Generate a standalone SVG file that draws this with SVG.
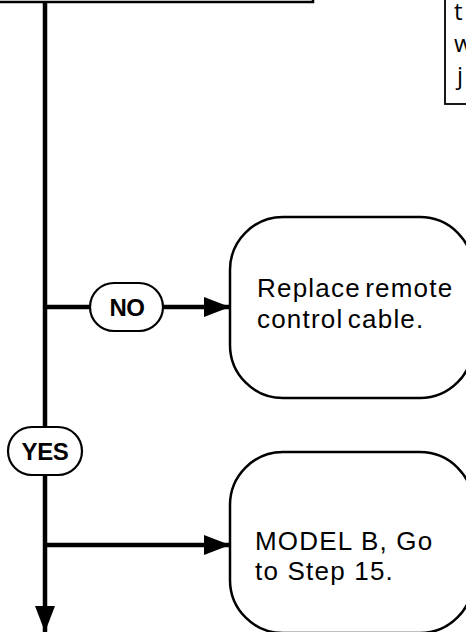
<svg xmlns="http://www.w3.org/2000/svg" width="466" height="632" viewBox="0 0 466 632">
<defs>
<style>
.box{fill:#fff;stroke:#000;stroke-width:2.5}
.note{fill:#fff;stroke:#000;stroke-width:1.8}
.pill{fill:#fff;stroke:#000;stroke-width:2.2}
.line{fill:none;stroke:#000;stroke-width:4.5}
.lbl{font-family:"Liberation Sans",Arial,sans-serif;font-weight:bold;font-size:24px;letter-spacing:-0.4px;text-anchor:middle;fill:#000}
.txt{font-family:"Liberation Sans",Arial,sans-serif;font-size:26px;letter-spacing:1.2px;word-spacing:-4px;fill:#000}
.wide{word-spacing:0}
.ntxt{font-family:"Open Sans",sans-serif;font-size:24px;fill:#000}
</style>
<marker id="ah" viewBox="0 0 26 20" refX="26" refY="10" markerWidth="26" markerHeight="20" markerUnits="userSpaceOnUse" orient="auto">
<path d="M0,0 L26,10 L0,20 Z" fill="#000"/>
</marker>
</defs>
<rect width="466" height="632" fill="#fff"/>
<g id="top-box"><rect class="box" x="-20" y="-100" width="333" height="102"/></g>
<g id="note-box">
<rect class="note" x="445" y="-100" width="60" height="204"/>
<text class="ntxt" x="454" y="20">t</text>
<text class="ntxt" x="454" y="52">w</text>
<text class="ntxt" x="457" y="84">j</text>
</g>
<g id="connectors">
<path class="line" d="M45,3 V632" marker-end="url(#ah)"/>
<path class="line" d="M45,307 H90"/>
<path class="line" d="M163,307 H230" marker-end="url(#ah)"/>
<path class="line" d="M45,545 H230" marker-end="url(#ah)"/>
</g>
<g id="no-pill">
<rect class="pill" x="90" y="283" width="73" height="48" rx="24"/>
<text class="lbl" x="127" y="316">NO</text>
</g>
<g id="yes-pill">
<rect class="pill" x="8" y="427" width="74" height="48" rx="24"/>
<text class="lbl" x="45" y="460">YES</text>
</g>
<g id="replace-box">
<rect class="box" x="230" y="217" width="243" height="181" rx="53"/>
<text class="txt" x="257" y="297">Replace remote</text>
<text class="txt" x="257" y="328">control cable.</text>
</g>
<g id="model-b-box">
<rect class="box" x="230" y="452" width="243" height="181" rx="53"/>
<text class="txt wide" x="255" y="550">MODEL B, Go</text>
<text class="txt wide" x="255" y="580">to Step 15.</text>
</g>
</svg>
